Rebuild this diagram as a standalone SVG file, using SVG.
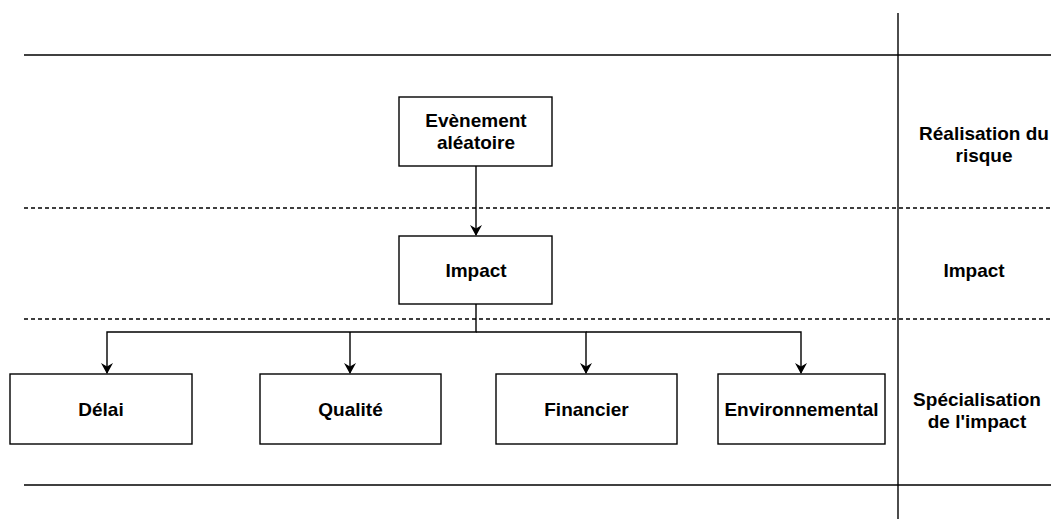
<svg xmlns="http://www.w3.org/2000/svg" width="1056" height="520" viewBox="0 0 1056 520">
<defs>
<style>
.box{fill:#fff;stroke:#000;stroke-width:1.4}
.t{font-family:"Liberation Sans",Arial,sans-serif;font-weight:bold;font-size:19px;fill:#000;text-anchor:middle}
.ln{stroke:#000;stroke-width:1.4;fill:none}
.dash{stroke:#000;stroke-width:1.4;stroke-dasharray:4 3;fill:none}
</style>
<marker id="arr" markerWidth="12" markerHeight="12" refX="10" refY="6" orient="auto" markerUnits="userSpaceOnUse">
<path d="M0,0 L11,6 L0,12 L3.5,6 Z" fill="#000"/>
</marker>
</defs>
<rect width="1056" height="520" fill="#fff"/>
<g id="lanes">
<line class="ln" x1="24" y1="55" x2="1051" y2="55"/>
<line class="dash" x1="24" y1="208" x2="1051" y2="208"/>
<line class="dash" x1="24" y1="319" x2="1051" y2="319"/>
<line class="ln" x1="24" y1="485" x2="1051" y2="485"/>
<line class="ln" x1="898" y1="13" x2="898" y2="519"/>
</g>
<g id="connectors">
<line class="ln" x1="476" y1="166" x2="476" y2="235" marker-end="url(#arr)"/>
<polyline class="ln" points="476,304 476,332 107,332 107,373" marker-end="url(#arr)"/>
<polyline class="ln" points="350,332 350,373" marker-end="url(#arr)"/>
<polyline class="ln" points="476,332 586,332 586,373" marker-end="url(#arr)"/>
<polyline class="ln" points="586,332 801,332 801,373" marker-end="url(#arr)"/>
</g>
<g id="evenement">
<rect class="box" x="399" y="97" width="153" height="69"/>
<text class="t" x="476" y="127">Evènement</text>
<text class="t" x="476" y="149">aléatoire</text>
</g>
<g id="impact">
<rect class="box" x="399" y="236" width="153" height="68"/>
<text class="t" x="476" y="277">Impact</text>
</g>
<g id="delai">
<rect class="box" x="10" y="374" width="182" height="70"/>
<text class="t" x="101" y="416">Délai</text>
</g>
<g id="qualite">
<rect class="box" x="260" y="374" width="181" height="70"/>
<text class="t" x="350.5" y="416">Qualité</text>
</g>
<g id="financier">
<rect class="box" x="496" y="374" width="181" height="70"/>
<text class="t" x="586.5" y="416">Financier</text>
</g>
<g id="environnemental">
<rect class="box" x="718" y="374" width="167" height="70"/>
<text class="t" x="801.5" y="416">Environnemental</text>
</g>
<g id="label-realisation">
<text class="t" x="984" y="140">Réalisation du</text>
<text class="t" x="984" y="162">risque</text>
</g>
<g id="label-impact">
<text class="t" x="974" y="277">Impact</text>
</g>
<g id="label-specialisation">
<text class="t" x="977" y="406">Spécialisation</text>
<text class="t" x="977" y="428">de l'impact</text>
</g>
</svg>
